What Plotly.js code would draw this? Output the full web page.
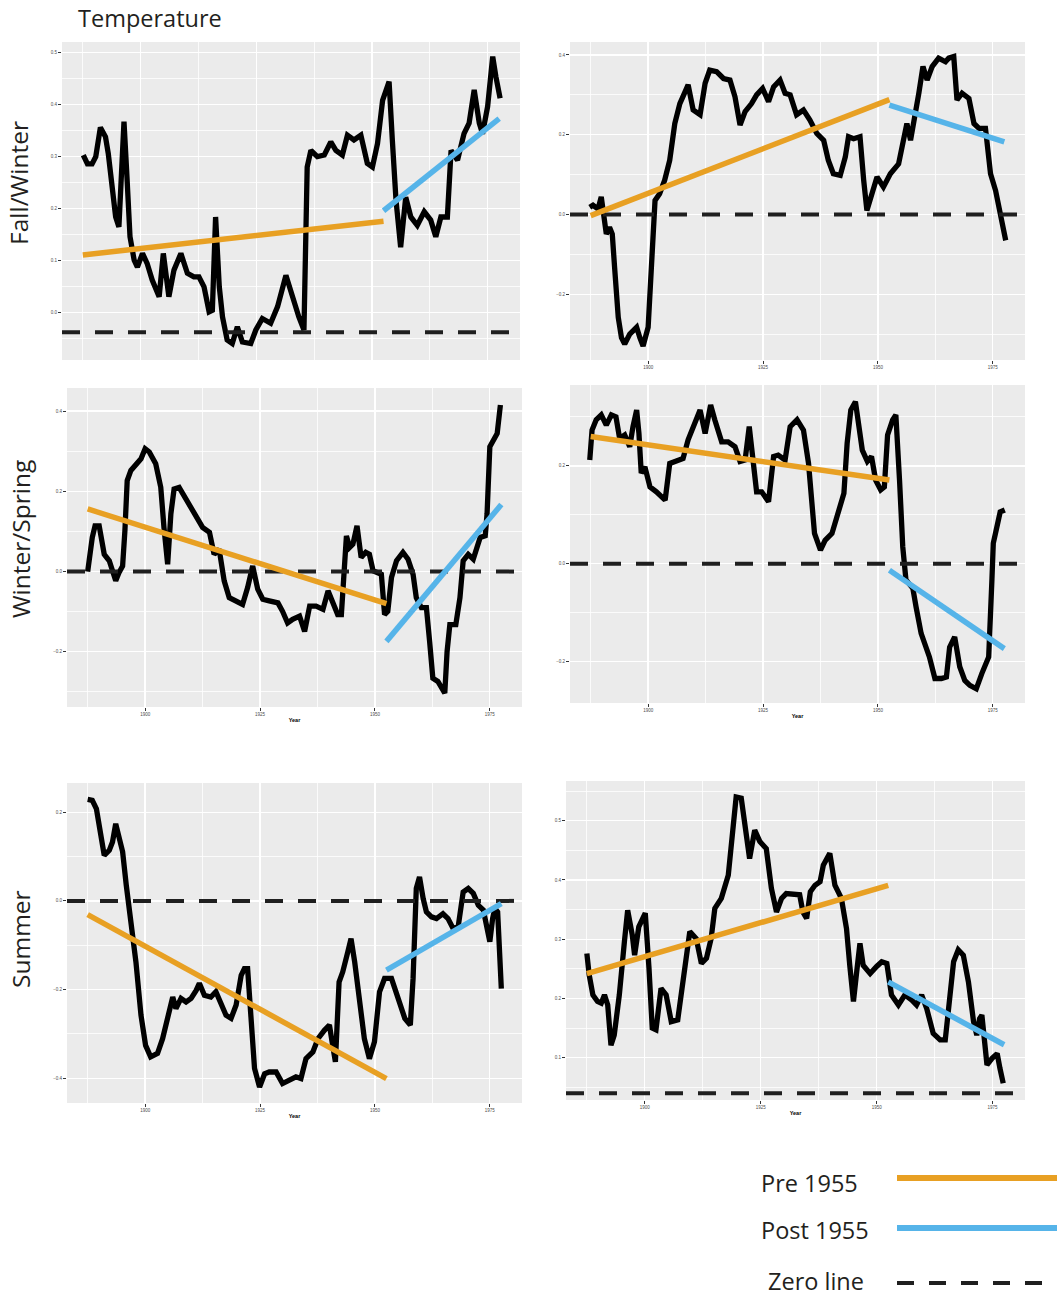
<!DOCTYPE html>
<html>
<head>
<meta charset="utf-8">
<script src="https://cdn.plot.ly/plotly-3.0.1.min.js"></script>
<style>html,body{margin:0;padding:0;background:#fff}#chart{width:1061px;height:1299px}</style>
</head>
<body>
<div id="chart"></div>
<script>
// ---- axis ticks ----
const tickYears = [1900, 1925, 1950, 1975];
const tickLabels = ['1900', '1925', '1950', '1975'];
const minorYears = [1887.5, 1912.5, 1937.5, 1962.5];
const xRange = [1883, 1982];

// ---- trend segment years ----
const preYears = [1887.5, 1952.5];
const postYears = [1952.5, 1977.5];

// ---- Fall/Winter, site A ----
const fwAYears = [1887.6,1888.5,1889.5,1890.3,1891.3,1892.4,1893,1893.9,1894.6,1895.3,1895.7,1896.4,1897,1897.7,1898.6,1899.3,1900.4,1901.4,1902.5,1904,1904.9,1906.1,1907.2,1908.7,1910.1,1911.5,1912.6,1913.7,1914.8,1915.5,1916.2,1917,1917.7,1918.7,1919.8,1920.9,1922,1923.8,1924.9,1926.3,1928.1,1929.6,1931.4,1932.8,1934.2,1935.3,1935.7,1936,1936.8,1938.2,1939.7,1941.1,1942.2,1943.6,1944.7,1946.1,1947.6,1949,1950.1,1951.2,1952.3,1953.7,1954.4,1955.2,1956.2,1957.3,1958.4,1959.8,1961.3,1962.7,1963.8,1964.9,1966.3,1967.1,1968.5,1969.9,1971,1972.1,1973.2,1973.9,1975,1976.1,1976.8,1977.7];
const fwATemp = [0.303,0.286,0.286,0.30,0.356,0.338,0.306,0.242,0.184,0.165,0.248,0.367,0.268,0.146,0.101,0.088,0.114,0.095,0.063,0.031,0.114,0.031,0.082,0.114,0.076,0.069,0.069,0.05,0.002,0.005,0.184,0.05,-0.008,-0.052,-0.059,-0.027,-0.056,-0.059,-0.033,-0.011,-0.02,0.012,0.072,0.031,-0.008,-0.033,0.204,0.28,0.312,0.30,0.303,0.328,0.312,0.303,0.341,0.332,0.341,0.287,0.28,0.325,0.408,0.444,0.332,0.216,0.126,0.222,0.184,0.168,0.194,0.178,0.146,0.184,0.184,0.312,0.293,0.344,0.364,0.428,0.364,0.344,0.396,0.492,0.453,0.412];

// ---- Fall/Winter, site B ----
const fwBYears = [1887.3,1888,1889.1,1889.8,1890.3,1890.9,1891.6,1892.2,1892.7,1893.5,1894.2,1894.9,1896,1897.5,1898.2,1898.9,1900,1900.7,1901.5,1902.5,1903.6,1904.7,1905.8,1906.9,1908.7,1909.8,1911.3,1912.4,1913.4,1914.9,1916.4,1917.8,1918.9,1920,1921.1,1922.5,1923.6,1924.9,1926.2,1927.3,1928.7,1929.8,1930.9,1932.3,1933.8,1935.2,1936.7,1938.2,1939.2,1940.3,1941.8,1942.9,1943.6,1944.7,1946.1,1946.9,1947.6,1948.7,1949.8,1951.2,1952.7,1954.5,1955.6,1956.3,1957.1,1958.1,1958.9,1959.8,1960.7,1961.8,1963.2,1964.7,1965.4,1966.5,1967.2,1968.3,1969.8,1970.9,1972,1973.4,1974.5,1975.6,1976.7,1977.8];
const fwBTemp = [0.018,0.023,0.014,0.044,0.002,-0.049,-0.032,-0.049,-0.132,-0.258,-0.309,-0.325,-0.30,-0.283,-0.309,-0.33,-0.283,-0.149,0.035,0.052,0.086,0.136,0.228,0.278,0.325,0.262,0.25,0.329,0.362,0.358,0.341,0.337,0.295,0.224,0.258,0.278,0.30,0.316,0.283,0.32,0.337,0.304,0.30,0.25,0.262,0.237,0.203,0.186,0.136,0.102,0.098,0.144,0.195,0.19,0.195,0.086,0.01,0.052,0.094,0.069,0.102,0.127,0.186,0.228,0.186,0.245,0.304,0.371,0.337,0.371,0.392,0.383,0.392,0.396,0.287,0.304,0.291,0.228,0.216,0.216,0.102,0.06,0.002,-0.065];

// ---- Winter/Spring, site A ----
const wsAYears = [1887.5,1887.8,1888.5,1889.1,1890,1891.1,1892.2,1892.9,1893.6,1894.3,1895.1,1895.6,1896.1,1896.9,1897.9,1899.1,1900,1900.9,1902.3,1903.4,1904.1,1904.9,1905.6,1906.3,1907.4,1908.9,1910.3,1911.4,1912.5,1914,1915,1916.1,1917.2,1918.3,1919.8,1921.2,1922.3,1923.4,1924.5,1925.6,1927,1928.9,1929.9,1931,1932.1,1933.6,1934.7,1935.8,1937.2,1938.7,1939.8,1940.8,1941.9,1942.7,1943.2,1943.8,1944.5,1945.2,1946.1,1947,1948,1948.8,1949.6,1950.7,1951.4,1952.1,1952.8,1953.6,1954.7,1956.1,1957.2,1958.3,1959,1960.1,1961.2,1961.9,1962.6,1963.7,1964.5,1965.2,1965.7,1966.3,1967.6,1968.5,1969.2,1970.3,1971.4,1972.2,1972.9,1974,1974.4,1975,1975.8,1976.6,1977.3];
const wsATemp = [0.0,0.027,0.085,0.114,0.114,0.043,0.027,0.002,-0.023,-0.003,0.014,0.102,0.227,0.252,0.265,0.281,0.306,0.298,0.269,0.21,0.11,0.018,0.144,0.206,0.21,0.181,0.152,0.135,0.11,0.098,0.043,0.056,-0.023,-0.065,-0.073,-0.082,-0.04,0.014,-0.044,-0.069,-0.073,-0.078,-0.099,-0.128,-0.119,-0.111,-0.149,-0.086,-0.086,-0.094,-0.048,-0.078,-0.107,-0.107,-0.007,0.089,0.06,0.068,0.114,0.035,0.048,0.043,0.002,-0.003,-0.007,-0.107,-0.099,-0.015,0.027,0.048,0.031,-0.007,-0.065,-0.09,-0.09,-0.174,-0.266,-0.274,-0.29,-0.303,-0.199,-0.132,-0.132,-0.065,0.027,0.043,0.031,0.06,0.085,0.089,0.144,0.311,0.327,0.344,0.415];

// ---- Winter/Spring, site B ----
const wsBYears = [1887.3,1887.8,1888.7,1889.8,1890.9,1892,1893,1893.8,1894.9,1896,1896.7,1897.5,1898,1898.5,1899.3,1900.4,1901.8,1903.7,1904.7,1906.2,1907.6,1908.7,1910.2,1911.3,1912.4,1913.6,1914.5,1916,1917.4,1918.9,1920,1921.1,1922,1922.9,1923.6,1924.7,1926.2,1927.3,1928.3,1929.8,1930.9,1932.4,1933.8,1934.9,1936.2,1937.5,1938.5,1940,1941.1,1942.6,1943.3,1944.1,1945.1,1945.9,1946.6,1947.7,1948.6,1949.5,1950.6,1951.4,1952.1,1953.2,1953.9,1954.7,1955.4,1956.1,1957.6,1958.3,1959.4,1961.2,1962.4,1963.8,1964.9,1965.6,1966.7,1967.8,1968.9,1970,1971.4,1972.6,1974.1,1974.8,1975.1,1975.9,1976.6,1977.6];
const wsBTemp = [0.212,0.273,0.294,0.304,0.283,0.304,0.30,0.256,0.263,0.239,0.28,0.314,0.266,0.185,0.198,0.157,0.147,0.13,0.205,0.209,0.215,0.253,0.287,0.314,0.266,0.324,0.294,0.249,0.249,0.239,0.209,0.212,0.28,0.212,0.147,0.147,0.127,0.219,0.222,0.212,0.28,0.294,0.273,0.205,0.062,0.028,0.048,0.062,0.096,0.144,0.246,0.314,0.331,0.273,0.232,0.209,0.219,0.171,0.151,0.157,0.263,0.294,0.304,0.171,0.035,-0.033,-0.05,-0.088,-0.142,-0.19,-0.234,-0.234,-0.231,-0.17,-0.149,-0.21,-0.238,-0.248,-0.255,-0.224,-0.19,-0.033,0.042,0.076,0.106,0.11];

// ---- Summer, site A ----
const suAYears = [1887.5,1888.5,1889.4,1890.3,1891.1,1892.2,1892.9,1893.6,1894.3,1895.1,1895.9,1896.9,1898,1899.1,1900.1,1901.2,1902.7,1903.8,1904.9,1906,1906.7,1907.8,1908.9,1910,1911.1,1911.8,1912.9,1914.3,1915.4,1916.6,1917.6,1918.7,1919.8,1920.9,1921.6,1922.3,1922.9,1923.8,1924.9,1926,1927,1928.5,1929.9,1931.8,1932.8,1933.9,1935,1936.5,1937.6,1939,1940.1,1940.8,1941.4,1942.2,1943,1944.1,1944.8,1945.6,1946.7,1947.7,1948.8,1949.9,1951,1952.1,1953.6,1955,1956.5,1957.7,1958.3,1959,1959.7,1960.5,1961.2,1962.3,1963.4,1964.8,1965.9,1967,1968.1,1969.2,1970.3,1971.4,1972.5,1973.6,1974.7,1975,1975.6,1976.1,1976.7,1977.2,1977.5];
const suATemp = [0.229,0.227,0.208,0.148,0.103,0.114,0.133,0.174,0.148,0.111,0.035,-0.047,-0.138,-0.258,-0.326,-0.352,-0.344,-0.311,-0.265,-0.217,-0.243,-0.22,-0.228,-0.22,-0.202,-0.186,-0.213,-0.217,-0.205,-0.235,-0.258,-0.265,-0.235,-0.168,-0.153,-0.153,-0.243,-0.378,-0.42,-0.39,-0.386,-0.386,-0.412,-0.401,-0.397,-0.401,-0.356,-0.341,-0.311,-0.292,-0.28,-0.326,-0.363,-0.183,-0.16,-0.115,-0.085,-0.138,-0.228,-0.311,-0.356,-0.318,-0.205,-0.175,-0.175,-0.22,-0.265,-0.28,-0.175,0.028,0.054,0.005,-0.025,-0.036,-0.04,-0.029,-0.04,-0.062,-0.059,0.02,0.028,0.017,-0.01,-0.021,-0.077,-0.092,-0.04,-0.017,-0.025,-0.183,-0.198];

// ---- Summer, site B ----
const suBYears = [1887.5,1888,1888.8,1889.8,1890.6,1891.3,1892,1892.7,1893.4,1894.5,1895.6,1896.3,1897.3,1897.8,1898.7,1900.1,1900.9,1901.6,1902.4,1903.5,1904.6,1905.7,1907.1,1908.2,1909.7,1911.1,1912.2,1913.3,1914.3,1915.1,1916.5,1918,1918.7,1919.7,1920.8,1921.9,1922.6,1923.7,1924.8,1926.2,1927.3,1928.4,1929.5,1930.5,1932,1933.4,1934.1,1934.9,1935.7,1936.7,1937.8,1938.5,1939.9,1941,1942.4,1943.5,1944.2,1945,1945.7,1946.4,1947.1,1948.6,1950,1951.1,1952.2,1953.2,1954.7,1956.1,1957.6,1958.6,1959.7,1960.8,1962.2,1963.7,1964.8,1965.5,1966.6,1967.6,1968.7,1969.8,1970.9,1971.6,1972.2,1972.7,1973.8,1974.9,1976,1976.6,1977.3];
const suBTemp = [0.276,0.24,0.206,0.195,0.192,0.206,0.189,0.121,0.138,0.206,0.296,0.349,0.307,0.273,0.321,0.344,0.251,0.15,0.147,0.217,0.206,0.161,0.164,0.223,0.313,0.301,0.259,0.268,0.301,0.352,0.369,0.408,0.459,0.54,0.538,0.476,0.436,0.484,0.465,0.453,0.386,0.346,0.369,0.377,0.375,0.375,0.346,0.335,0.38,0.391,0.397,0.425,0.445,0.391,0.369,0.318,0.256,0.195,0.245,0.293,0.256,0.242,0.254,0.262,0.259,0.206,0.189,0.206,0.197,0.189,0.206,0.183,0.141,0.13,0.13,0.183,0.262,0.282,0.273,0.228,0.161,0.138,0.166,0.172,0.088,0.099,0.107,0.082,0.057];

// ---- fitted trends: [value at start, value at end] ----
const preTrend  = [[0.111, 0.176], [-0.003, 0.288], [0.156, -0.080], [0.260, 0.171], [-0.031, -0.401], [0.242, 0.391]];
const postTrend = [[0.196, 0.373], [0.274, 0.182], [-0.174, 0.167], [-0.013, -0.173], [-0.156, -0.006], [0.228, 0.122]];

// ---- dashed reference level per panel ----
const zeroLevels = [-0.0375, 0, 0, 0, 0, 0.04];

const seriesYears = [fwAYears, fwBYears, wsAYears, wsBYears, suAYears, suBYears];
const seriesTemp  = [fwATemp, fwBTemp, wsATemp, wsBTemp, suATemp, suBTemp];

// ---- page geometry (pixels) ----
const W = 1061, H = 1299;
const boxes = [
  {l: 62,  r: 520,  t: 42,  b: 360},
  {l: 570, r: 1025, t: 42,  b: 360},
  {l: 67,  r: 522,  t: 388, b: 707},
  {l: 570, r: 1025, t: 385, b: 703},
  {l: 67,  r: 522,  t: 783, b: 1103},
  {l: 566, r: 1025, t: 781, b: 1100}
];
const yRanges = [[-0.0906, 0.52], [-0.365, 0.4325], [-0.3375, 0.4575], [-0.284, 0.365], [-0.456, 0.266], [0.0287, 0.567]];
const yDticks = [0.1, 0.2, 0.2, 0.2, 0.2, 0.1];
const showXLabels = [false, true, true, true, true, true];
const showXTitle  = [false, false, true, true, true, true];

const px = x => x / W;
const py = y => 1 - y / H;

const ORANGE = '#E8A023';
const BLUE = '#56B4E9';
const tickFont = {family: 'Liberation Sans, Arial, sans-serif', size: 4.5, color: '#4D4D4D'};

const traces = [];
const layout = {
  width: W, height: H,
  margin: {l: 0, r: 0, t: 0, b: 0},
  paper_bgcolor: '#ffffff',
  plot_bgcolor: '#EBEBEB',
  showlegend: false,
  annotations: [],
  shapes: []
};

for (let i = 0; i < 6; i++) {
  const n = i === 0 ? '' : String(i + 1);
  const xa = 'x' + n, ya = 'y' + n;
  const bx = boxes[i];

  layout['xaxis' + n] = {
    domain: [px(bx.l), px(bx.r)], anchor: ya, range: xRange,
    tickmode: 'array', tickvals: tickYears, ticktext: tickLabels,
    showticklabels: showXLabels[i], ticks: showXLabels[i] ? 'outside' : '',
    ticklen: 3, tickwidth: 1, tickcolor: '#333333', tickfont: tickFont,
    showgrid: true, gridcolor: '#ffffff', gridwidth: 1.3,
    minor: {tickmode: 'array', tickvals: minorYears, showgrid: true, gridcolor: '#ffffff', gridwidth: 0.8, ticks: ''},
    zeroline: false, showline: false, fixedrange: true, automargin: false,
    title: showXTitle[i] ? {text: '<b>Year</b>', font: {family: 'Liberation Sans, Arial, sans-serif', size: 5.5, color: '#000'}, standoff: 1} : {text: ''}
  };
  layout['yaxis' + n] = {
    domain: [py(bx.b), py(bx.t)], anchor: xa, range: yRanges[i],
    tickmode: 'linear', tick0: 0, dtick: yDticks[i],
    ticks: 'outside', ticklen: 3, tickwidth: 1, tickcolor: '#333333', tickfont: tickFont,
    tickformat: '.1f',
    showgrid: true, gridcolor: '#ffffff', gridwidth: 1.3,
    minor: {tick0: 0, dtick: yDticks[i] / 2, showgrid: true, gridcolor: '#ffffff', gridwidth: 0.8, ticks: ''},
    zeroline: false, showline: false, fixedrange: true, automargin: false
  };

  // smoothed temperature series
  traces.push({
    type: 'scatter', mode: 'lines', xaxis: xa, yaxis: ya,
    x: seriesYears[i], y: seriesTemp[i],
    line: {color: '#000000', width: 5.3}, hoverinfo: 'skip'
  });
  // dashed zero line
  traces.push({
    type: 'scatter', mode: 'lines', xaxis: xa, yaxis: ya,
    x: xRange, y: [zeroLevels[i], zeroLevels[i]],
    line: {color: '#1F1F1F', width: 4, dash: '18px,15px'}, hoverinfo: 'skip'
  });
  // pre-1955 trend
  traces.push({
    type: 'scatter', mode: 'lines', xaxis: xa, yaxis: ya,
    x: preYears, y: preTrend[i],
    line: {color: ORANGE, width: 5.5}, hoverinfo: 'skip'
  });
  // post-1955 trend
  traces.push({
    type: 'scatter', mode: 'lines', xaxis: xa, yaxis: ya,
    x: postYears, y: postTrend[i],
    line: {color: BLUE, width: 5.5}, hoverinfo: 'skip'
  });
}

const fontFamily = 'Open Sans, Noto Sans, sans-serif';
const titleFont = {family: fontFamily, size: 23.5, color: '#231F20'};
const rowFont = {family: fontFamily, size: 24.5, color: '#231F20'};

// main title
layout.annotations.push({
  xref: 'paper', yref: 'paper', x: px(76), y: py(18), xanchor: 'left', yanchor: 'middle',
  text: 'Temperature', showarrow: false, font: titleFont
});
// row labels
[['Fall/Winter', 18, 183], ['Winter/Spring', 20, 539], ['Summer', 20, 939]].forEach(([t, x, y]) => {
  layout.annotations.push({
    xref: 'paper', yref: 'paper', x: px(x), y: py(y), xanchor: 'center', yanchor: 'middle',
    text: t, textangle: -90, showarrow: false, font: rowFont
  });
});

// legend key
const legendRows = [
  {text: 'Pre 1955', tx: 760, y: 1183, ly: 1178, color: ORANGE, width: 6, dash: 'solid', x1: 1057},
  {text: 'Post 1955', tx: 760, y: 1230, ly: 1228, color: BLUE, width: 6, dash: 'solid', x1: 1057},
  {text: 'Zero line', tx: 767, y: 1281, ly: 1283, color: '#1F1F1F', width: 4, dash: '17px,15px', x1: 1047}
];
legendRows.forEach(r => {
  layout.annotations.push({
    xref: 'paper', yref: 'paper', x: px(r.tx), y: py(r.y), xanchor: 'left', yanchor: 'middle',
    text: r.text, showarrow: false, font: titleFont, borderpad: 0
  });
  layout.shapes.push({
    type: 'line', xref: 'paper', yref: 'paper',
    x0: px(897), x1: px(r.x1), y0: py(r.ly), y1: py(r.ly),
    line: {color: r.color, width: r.width, dash: r.dash}
  });
});

Plotly.newPlot('chart', traces, layout, {staticPlot: true, displayModeBar: false});
</script>
</body>
</html>
